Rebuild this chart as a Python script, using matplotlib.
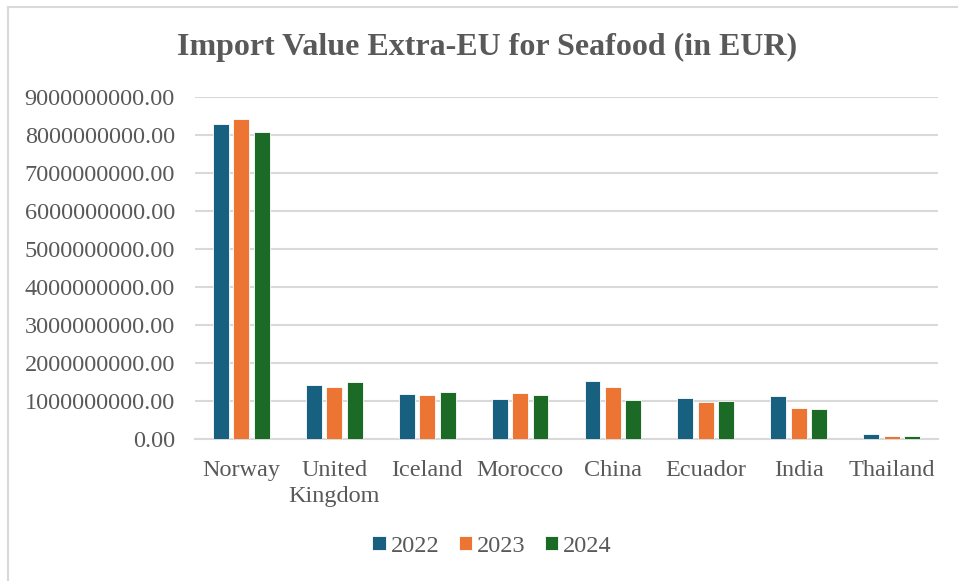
import numpy as np
import matplotlib.pyplot as plt
from matplotlib.lines import Line2D

countries = ["Norway", "United\nKingdom", "Iceland", "Morocco", "China",
             "Ecuador", "India", "Thailand"]
v2022 = [8.28e9, 1.41e9, 1.19e9, 1.05e9, 1.52e9, 1.08e9, 1.13e9, 0.125e9]
v2023 = [8.41e9, 1.36e9, 1.17e9, 1.21e9, 1.38e9, 0.97e9, 0.82e9, 0.08e9]
v2024 = [8.09e9, 1.50e9, 1.25e9, 1.17e9, 1.03e9, 1.00e9, 0.80e9, 0.07e9]
years = ["2022", "2023", "2024"]
colors = ["#17607f", "#ec7533", "#1b6b26"]

plt.rcParams['font.family'] = ['Liberation Serif', 'DejaVu Serif']

fig = plt.figure(figsize=(9.58, 5.81), dpi=100)
ax = fig.add_axes([195 / 958, 1 - 439 / 581, (938 - 195) / 958, (439 - 97) / 581])

x = np.arange(len(countries))
w = 0.172
step = 0.22
for i, (vals, lab) in enumerate(zip([v2022, v2023, v2024], years)):
    ax.bar(x + (i - 1) * step, vals, w, color=colors[i], label=lab,
           edgecolor="#ffffff", linewidth=0.6, zorder=3)

ax.set_xlim(-0.5, len(countries) - 0.5)
ax.set_ylim(0, 9e9)
ax.set_yticks(np.arange(0, 9.5e9, 1e9))
ax.set_yticklabels([f"{v:.2f}" for v in np.arange(0, 9.5e9, 1e9)])
ax.set_xticks(x)
ax.set_xticklabels(countries, linespacing=1.35)
ax.tick_params(axis="both", length=0, labelsize=17.5, labelcolor="#595959")
ax.tick_params(axis="y", pad=14.5)
ax.tick_params(axis="x", pad=15)
ax.grid(axis="y", color="#d9d9d9", linewidth=1.5, zorder=0)
for s in ["top", "right", "left"]:
    ax.spines[s].set_visible(False)
ax.spines["bottom"].set_color("#d9d9d9")
ax.spines["bottom"].set_linewidth(1.5)

fig.suptitle("Import Value Extra-EU for Seafood (in EUR)", x=487 / 958, y=1 - 47 / 581,
             va="center", fontsize=23, fontweight="bold", color="#595959")

leg = fig.legend(loc="center", bbox_to_anchor=(492 / 958, 1 - 546 / 581), ncol=3,
                 frameon=False, fontsize=17.5, handlelength=0.55, handleheight=0.55,
                 handletextpad=0.2, columnspacing=0.8)
for t in leg.get_texts():
    t.set_color("#595959")

fig.add_artist(Line2D([8 / 958, 8 / 958], [0, 1 - 7 / 581], color="#d9d9d9", lw=1.5))
fig.add_artist(Line2D([8 / 958, 1], [1 - 7 / 581, 1 - 7 / 581], color="#d9d9d9", lw=1.5))

fig.savefig("out.png", dpi=100)
